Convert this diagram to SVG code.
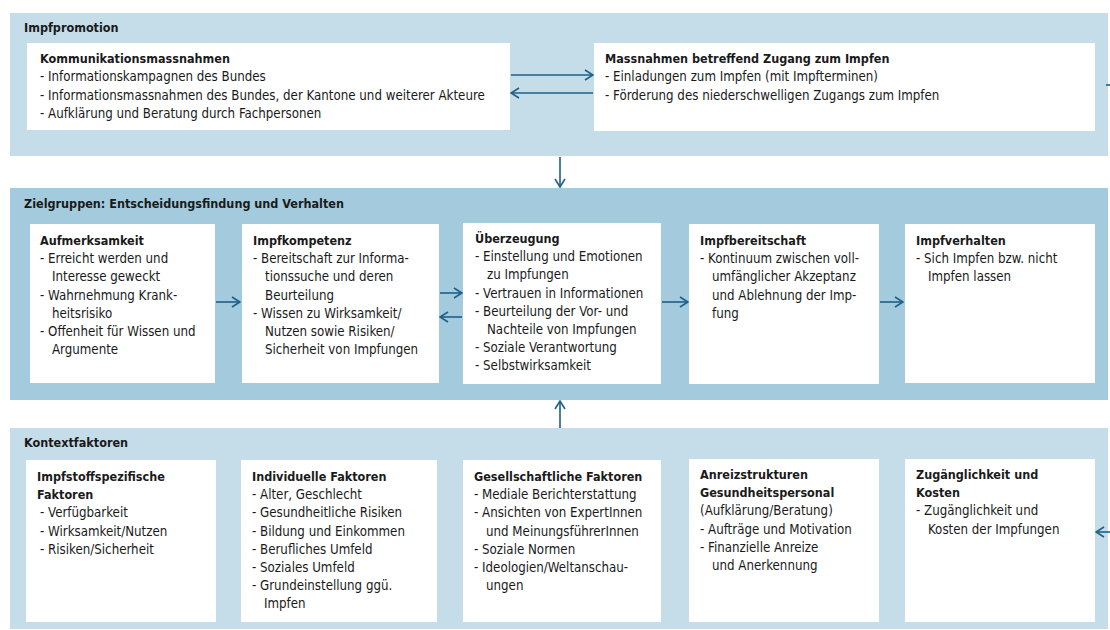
<svg xmlns="http://www.w3.org/2000/svg" width="1110" height="630" viewBox="0 0 1110 630">
<style>
text{font-family:"DejaVu Sans Condensed","Liberation Sans",sans-serif;font-size:13.2px;fill:#1a1a1a}
.b{font-weight:bold;font-size:12.5px}
.pl{fill:#c5dde9}
.pd{fill:#a3cbdd}
.box{fill:#ffffff}
.c{stroke:#1f5f85;stroke-width:1.6;fill:none}
</style>
<defs>
<marker id="ah" viewBox="0 0 10 12" refX="9" refY="6" markerWidth="10" markerHeight="12" markerUnits="userSpaceOnUse" orient="auto">
<path d="M1,1 L9,6 L1,11" fill="none" stroke="#1f5f85" stroke-width="1.6"/>
</marker>
</defs>
<rect width="1110" height="630" fill="#ffffff"/>

<g id="impfpromotion">
<rect class="pl" x="10" y="13" width="1098" height="143"/>
<text class="b" x="24" y="32">Impfpromotion</text>
</g>
<g id="kommunikation">
<rect class="box" x="27" y="43" width="483" height="87"/>
<text x="40" y="63"><tspan class="b">Kommunikationsmassnahmen</tspan><tspan x="40" dy="18.3">- Informationskampagnen des Bundes</tspan><tspan x="40" dy="18.3">- Informationsmassnahmen des Bundes, der Kantone und weiterer Akteure</tspan><tspan x="40" dy="18.3">- Aufklärung und Beratung durch Fachpersonen</tspan></text>
</g>
<g id="zugang">
<rect class="box" x="594" y="43" width="501" height="88"/>
<text x="605" y="63"><tspan class="b">Massnahmen betreffend Zugang zum Impfen</tspan><tspan x="605" dy="18.3">- Einladungen zum Impfen (mit Impfterminen)</tspan><tspan x="605" dy="18.3">- Förderung des niederschwelligen Zugangs zum Impfen</tspan></text>
</g>

<g id="zielgruppen">
<rect class="pd" x="10" y="188" width="1098" height="212"/>
<text class="b" x="24" y="208">Zielgruppen: Entscheidungsfindung und Verhalten</text>
</g>
<g id="aufmerksamkeit">
<rect class="box" x="30" y="224" width="185" height="159"/>
<text x="40" y="245"><tspan class="b">Aufmerksamkeit</tspan><tspan x="40" dy="18.2">- Erreicht werden und</tspan><tspan x="52" dy="18.2">Interesse geweckt</tspan><tspan x="40" dy="18.2">- Wahrnehmung Krank-</tspan><tspan x="52" dy="18.2">heitsrisiko</tspan><tspan x="40" dy="18.2">- Offenheit für Wissen und</tspan><tspan x="52" dy="18.2">Argumente</tspan></text>
</g>
<g id="impfkompetenz">
<rect class="box" x="242" y="224" width="197" height="159"/>
<text x="253" y="245"><tspan class="b">Impfkompetenz</tspan><tspan x="253" dy="18.2">- Bereitschaft zur Informa-</tspan><tspan x="265" dy="18.2">tionssuche und deren</tspan><tspan x="265" dy="18.2">Beurteilung</tspan><tspan x="253" dy="18.2">- Wissen zu Wirksamkeit/</tspan><tspan x="265" dy="18.2">Nutzen sowie Risiken/</tspan><tspan x="265" dy="18.2">Sicherheit von Impfungen</tspan></text>
</g>
<g id="ueberzeugung">
<rect class="box" x="463" y="223" width="198" height="161"/>
<text x="475" y="243"><tspan class="b">Überzeugung</tspan><tspan x="475" dy="18.2">- Einstellung und Emotionen</tspan><tspan x="487" dy="18.2">zu Impfungen</tspan><tspan x="475" dy="18.2">- Vertrauen in Informationen</tspan><tspan x="475" dy="18.2">- Beurteilung der Vor- und</tspan><tspan x="487" dy="18.2">Nachteile von Impfungen</tspan><tspan x="475" dy="18.2">- Soziale Verantwortung</tspan><tspan x="475" dy="18.2">- Selbstwirksamkeit</tspan></text>
</g>
<g id="impfbereitschaft">
<rect class="box" x="689" y="224" width="190" height="160"/>
<text x="700" y="245"><tspan class="b">Impfbereitschaft</tspan><tspan x="700" dy="18.2">- Kontinuum zwischen voll-</tspan><tspan x="712" dy="18.2">umfänglicher Akzeptanz</tspan><tspan x="712" dy="18.2">und Ablehnung der Imp-</tspan><tspan x="712" dy="18.2">fung</tspan></text>
</g>
<g id="impfverhalten">
<rect class="box" x="905" y="224" width="190" height="159"/>
<text x="916" y="245"><tspan class="b">Impfverhalten</tspan><tspan x="916" dy="18.2">- Sich Impfen bzw. nicht</tspan><tspan x="928" dy="18.2">Impfen lassen</tspan></text>
</g>

<g id="kontextfaktoren">
<rect class="pl" x="10" y="428" width="1098" height="201"/>
<text class="b" x="24" y="447">Kontextfaktoren</text>
</g>
<g id="impfstoffspezifisch">
<rect class="box" x="26" y="460" width="190" height="162"/>
<text x="37" y="481"><tspan class="b">Impfstoffspezifische</tspan><tspan class="b" x="37" dy="18.2">Faktoren</tspan><tspan x="40" dy="18.2">- Verfügbarkeit</tspan><tspan x="40" dy="18.2">- Wirksamkeit/Nutzen</tspan><tspan x="40" dy="18.2">- Risiken/Sicherheit</tspan></text>
</g>
<g id="individuell">
<rect class="box" x="241" y="460" width="196" height="162"/>
<text x="252" y="481"><tspan class="b">Individuelle Faktoren</tspan><tspan x="252" dy="18.2">- Alter, Geschlecht</tspan><tspan x="252" dy="18.2">- Gesundheitliche Risiken</tspan><tspan x="252" dy="18.2">- Bildung und Einkommen</tspan><tspan x="252" dy="18.2">- Berufliches Umfeld</tspan><tspan x="252" dy="18.2">- Soziales Umfeld</tspan><tspan x="252" dy="18.2">- Grundeinstellung ggü.</tspan><tspan x="264" dy="18.2">Impfen</tspan></text>
</g>
<g id="gesellschaftlich">
<rect class="box" x="463" y="460" width="198" height="162"/>
<text x="474" y="481"><tspan class="b">Gesellschaftliche Faktoren</tspan><tspan x="474" dy="18.2">- Mediale Berichterstattung</tspan><tspan x="474" dy="18.2">- Ansichten von ExpertInnen</tspan><tspan x="486" dy="18.2">und MeinungsführerInnen</tspan><tspan x="474" dy="18.2">- Soziale Normen</tspan><tspan x="474" dy="18.2">- Ideologien/Weltanschau-</tspan><tspan x="486" dy="18.2">ungen</tspan></text>
</g>
<g id="anreizstrukturen">
<rect class="box" x="689" y="459" width="190" height="163"/>
<text x="700" y="479"><tspan class="b">Anreizstrukturen</tspan><tspan class="b" x="700" dy="18.2">Gesundheitspersonal</tspan><tspan x="700" dy="18.2">(Aufklärung/Beratung)</tspan><tspan x="700" dy="18.2">- Aufträge und Motivation</tspan><tspan x="700" dy="18.2">- Finanzielle Anreize</tspan><tspan x="712" dy="18.2">und Anerkennung</tspan></text>
</g>
<g id="zugaenglichkeit">
<rect class="box" x="905" y="459" width="190" height="163"/>
<text x="916" y="479"><tspan class="b">Zugänglichkeit und</tspan><tspan class="b" x="916" dy="18.2">Kosten</tspan><tspan x="916" dy="18.2">- Zugänglichkeit und</tspan><tspan x="928" dy="18.2">Kosten der Impfungen</tspan></text>
</g>

<g id="connectors">
<line class="c" x1="511" y1="75" x2="593" y2="75" marker-end="url(#ah)"/>
<line class="c" x1="593" y1="93" x2="511" y2="93" marker-end="url(#ah)"/>
<line class="c" x1="1106" y1="85" x2="1110" y2="85"/>
<line class="c" x1="560" y1="157" x2="560" y2="187" marker-end="url(#ah)"/>
<line class="c" x1="216" y1="302" x2="240" y2="302" marker-end="url(#ah)"/>
<line class="c" x1="440" y1="293" x2="462" y2="293" marker-end="url(#ah)"/>
<line class="c" x1="462" y1="317" x2="440" y2="317" marker-end="url(#ah)"/>
<line class="c" x1="662" y1="302" x2="688" y2="302" marker-end="url(#ah)"/>
<line class="c" x1="880" y1="302" x2="903" y2="302" marker-end="url(#ah)"/>
<line class="c" x1="560" y1="428" x2="560" y2="401" marker-end="url(#ah)"/>
<line class="c" x1="1110" y1="532" x2="1096" y2="532" marker-end="url(#ah)"/>
</g>
</svg>
